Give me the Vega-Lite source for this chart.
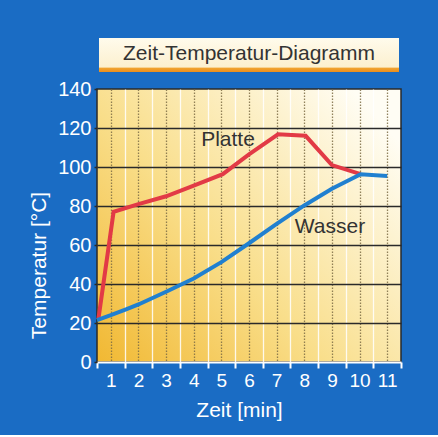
{
  "$schema": "https://vega.github.io/schema/vega-lite/v6.json",
  "background": "#1a6cc4",
  "padding": {"left": 27, "top": 38, "right": 36, "bottom": 14},
  "autosize": {"type": "pad"},
  "bounds": "flush",
  "center": true,
  "spacing": 17,
  "config": {
    "font": "Liberation Sans",
    "text": {"font": "Liberation Sans"}
  },
  "datasets": {
    "series": [
      {"Zeit": 0.55, "Temp": 22, "Serie": "Platte"},
      {"Zeit": 1.1, "Temp": 77, "Serie": "Platte"},
      {"Zeit": 2, "Temp": 81, "Serie": "Platte"},
      {"Zeit": 3, "Temp": 85, "Serie": "Platte"},
      {"Zeit": 4, "Temp": 90.5, "Serie": "Platte"},
      {"Zeit": 5.05, "Temp": 96.3, "Serie": "Platte"},
      {"Zeit": 6, "Temp": 106.5, "Serie": "Platte"},
      {"Zeit": 7.05, "Temp": 116.8, "Serie": "Platte"},
      {"Zeit": 8.05, "Temp": 116, "Serie": "Platte"},
      {"Zeit": 9, "Temp": 101, "Serie": "Platte"},
      {"Zeit": 10.04, "Temp": 96.3, "Serie": "Platte"},
      {"Zeit": 0.5, "Temp": 21.5, "Serie": "Wasser"},
      {"Zeit": 1, "Temp": 24, "Serie": "Wasser"},
      {"Zeit": 1.55, "Temp": 27, "Serie": "Wasser"},
      {"Zeit": 2, "Temp": 29.5, "Serie": "Wasser"},
      {"Zeit": 3, "Temp": 36, "Serie": "Wasser"},
      {"Zeit": 4, "Temp": 42.8, "Serie": "Wasser"},
      {"Zeit": 5, "Temp": 51.2, "Serie": "Wasser"},
      {"Zeit": 6, "Temp": 60.9, "Serie": "Wasser"},
      {"Zeit": 7, "Temp": 70.8, "Serie": "Wasser"},
      {"Zeit": 8, "Temp": 80.3, "Serie": "Wasser"},
      {"Zeit": 9, "Temp": 88.8, "Serie": "Wasser"},
      {"Zeit": 10.04, "Temp": 96.3, "Serie": "Wasser"},
      {"Zeit": 11, "Temp": 95.4, "Serie": "Wasser"}
    ],
    "labels": [
      {"Zeit": 5.24, "Temp": 113.8, "label": "Platte"},
      {"Zeit": 8.93, "Temp": 69.2, "label": "Wasser"}
    ],
    "titel": [
      {"text": "Zeit-Temperatur-Diagramm"}
    ]
  },
  "vconcat": [
    {
      "width": 300,
      "height": 34,
      "view": {
        "stroke": null,
        "fill": {
          "gradient": "linear",
          "x1": 0, "y1": 0, "x2": 0, "y2": 1,
          "stops": [
            {"offset": 0, "color": "#fffbec"},
            {"offset": 0.86, "color": "#fcf0cf"},
            {"offset": 0.88, "color": "#f2a531"},
            {"offset": 1, "color": "#e98d1e"}
          ]
        }
      },
      "data": {"name": "titel"},
      "mark": {"type": "text", "fontSize": 21, "color": "#333333", "baseline": "middle", "dy": -1},
      "encoding": {"text": {"field": "text"}}
    },
    {
      "width": 304,
      "height": 273,
      "view": {
        "stroke": "#2a2a2a",
        "strokeWidth": 1.5,
        "fill": {
          "gradient": "linear",
          "x1": 0, "y1": 1, "x2": 1, "y2": 0.2,
          "stops": [
            {"offset": 0, "color": "#f1b832"},
            {"offset": 0.45, "color": "#f9de8a"},
            {"offset": 1, "color": "#fffdf4"}
          ]
        }
      },
      "layer": [
        {
          "data": {"name": "series"},
          "mark": {"type": "line", "strokeWidth": 4, "strokeJoin": "miter"},
          "encoding": {
            "x": {
              "field": "Zeit",
              "type": "quantitative",
              "scale": {"domain": [0.5, 11.5], "nice": false, "zero": false},
              "axis": {
                "values": [0.5, 1, 1.5, 2, 2.5, 3, 3.5, 4, 4.5, 5, 5.5, 6, 6.5, 7, 7.5, 8, 8.5, 9, 9.5, 10, 10.5, 11, 11.5],
                "tickCount": 40,
                "grid": true,
                "gridColor": {"condition": {"test": "datum.value % 1 === 0", "value": "#7d6c45"}, "value": "#ffffff"},
                "gridDash": {"condition": {"test": "datum.value % 1 === 0", "value": [1.5, 1.5]}, "value": []},
                "gridOpacity": {"condition": {"test": "datum.value === 0.5 || datum.value === 11.5", "value": 0}, "value": 0.85},
                "gridWidth": 1.3,
                "tickOpacity": {"condition": {"test": "datum.value % 1 === 0", "value": 0}, "value": 1},
                "tickColor": "#ffffff",
                "tickSize": 6,
                "tickWidth": 2,
                "domainColor": "#ffffff",
                "domainWidth": 2,
                "labelExpr": "datum.value % 1 === 0 ? format(datum.value, 'd') : ''",
                "labelOverlap": false,
                "labelFlush": false,
                "labelColor": "#ffffff",
                "labelFontSize": 19,
                "labelPadding": 3,
                "title": "Zeit [min]",
                "titleColor": "#ffffff",
                "titleFontSize": 21,
                "titleFontWeight": "normal",
                "titlePadding": 9,
                "titleX": 142
              }
            },
            "y": {
              "field": "Temp",
              "type": "quantitative",
              "scale": {"domain": [0, 140], "nice": false},
              "axis": {
                "values": [0, 20, 40, 60, 80, 100, 120, 140],
                "tickCount": 20,
                "grid": true,
                "gridColor": "#2a2a2a",
                "gridWidth": 1.3,
                "gridOpacity": {"condition": {"test": "datum.value === 0 || datum.value === 140", "value": 0}, "value": 1},
                "domain": false,
                "tickColor": "#2a2a2a",
                "tickSize": 3,
                "tickWidth": 1.5,
                "labelColor": "#ffffff",
                "labelFontSize": 20,
                "labelOverlap": false,
                "labelFlush": false,
                "labelPadding": 3,
                "title": "Temperatur [°C]",
                "titleColor": "#ffffff",
                "titleFontSize": 21,
                "titleFontWeight": "normal",
                "titlePadding": 8,
                "titleY": 176
              }
            },
            "color": {
              "field": "Serie",
              "type": "nominal",
              "scale": {"domain": ["Platte", "Wasser"], "range": ["#e23a46", "#2080d0"]},
              "legend": null
            },
            "order": {"field": "Zeit", "type": "quantitative"}
          }
        },
        {
          "data": {"name": "labels"},
          "mark": {"type": "text", "fontSize": 21, "color": "#333333", "baseline": "middle"},
          "encoding": {
            "x": {"field": "Zeit", "type": "quantitative"},
            "y": {"field": "Temp", "type": "quantitative"},
            "text": {"field": "label"}
          }
        }
      ]
    }
  ]
}
